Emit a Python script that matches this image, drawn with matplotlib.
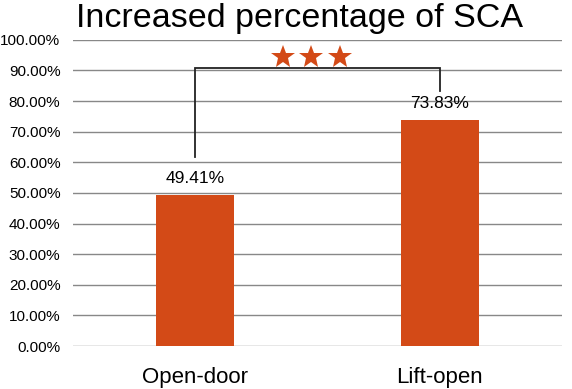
import matplotlib
matplotlib.use("Agg")
import matplotlib.pyplot as plt
from matplotlib.ticker import FuncFormatter

categories = ["Open-door", "Lift-open"]
values = [49.41, 73.83]
yticks = [0, 10, 20, 30, 40, 50, 60, 70, 80, 90, 100]

bar_color = "#D34A17"
plt.rcParams['font.family'] = ['Liberation Sans', 'DejaVu Sans']

fig = plt.figure(figsize=(5.72, 3.89), dpi=100)
ax = fig.add_axes([0.1276, 0.1105, 0.855, 0.787])

x = range(len(categories))
ax.bar(x, values, width=0.32, color=bar_color, zorder=3)
ax.set_xlim(-0.5, 1.5)
ax.set_ylim(0, 100)
ax.set_yticks(yticks)
ax.yaxis.set_major_formatter(FuncFormatter(lambda v, p: f"{v:.2f}%"))
ax.grid(axis='y', color='#888888', linewidth=1.0, zorder=0)
for s in ax.spines.values():
    s.set_visible(False)
ax.tick_params(axis='y', length=0, labelsize=11, pad=9)
ax.tick_params(axis='x', length=0, labelsize=16, pad=15)
ax.set_xticks(list(x))
ax.set_xticklabels(categories)

for i, v in enumerate(values):
    ax.text(i, v + 3.0, f"{v:.2f}%", ha='center', va='bottom', fontsize=12.5, zorder=4)

# significance bracket
bracket_y = 90.9
ax.plot([0, 0, 1, 1], [61.6, bracket_y, bracket_y, 83.4], color='#222222', linewidth=1.3,
        solid_joinstyle='miter', zorder=4)
for xs in [0.36, 0.475, 0.59]:
    ax.plot(xs, 94.5, marker='*', markersize=18, color=bar_color, markeredgewidth=0, zorder=5)

fig.text(0.133, 0.931, "Increased percentage of SCA", fontsize=24.5, ha='left', va='baseline')

fig.savefig("out.png", dpi=100)
